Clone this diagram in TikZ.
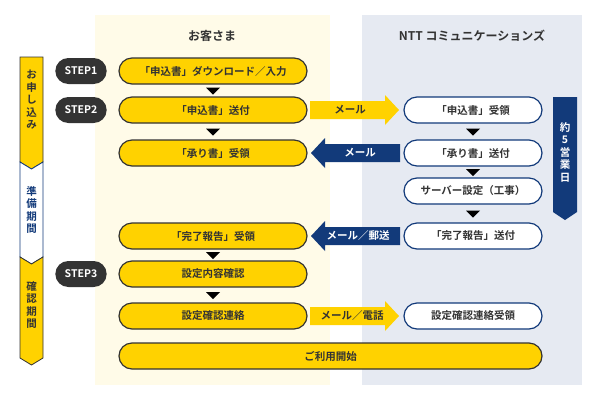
\documentclass[tikz,border=0pt]{standalone}
\usepackage{fontspec}
\setmainfont{Noto Sans CJK JP}[BoldFont={Noto Sans CJK JP Bold}]
\usetikzlibrary{shapes.misc}
\definecolor{yel}{HTML}{FFD200}
\definecolor{ylite}{HTML}{FFFBE8}
\definecolor{blite}{HTML}{E6EAF2}
\definecolor{navy}{HTML}{123A7A}
\definecolor{dk}{HTML}{333333}
\begin{document}
\begin{tikzpicture}[x=1pt,y=-1pt,
  ybox/.style={draw=dk,line width=1.2pt,fill=yel,rounded rectangle,minimum width=190pt,minimum height=26pt,inner sep=1pt,font=\bfseries\fontsize{10.5}{12}\selectfont,text=dk},
  wbox/.style={draw=navy,line width=1.2pt,fill=white,rounded rectangle,minimum width=140pt,minimum height=26pt,inner sep=1pt,font=\bfseries\fontsize{10.5}{12}\selectfont,text=dk},
  pill/.style={fill=dk,rounded rectangle,minimum width=58pt,minimum height=26pt,font=\bfseries\fontsize{10.5}{12}\selectfont,text=white},
  tri/.style={fill=black},
  lbl/.style={font=\bfseries\fontsize{10.5}{12}\selectfont},
  vlbl/.style={align=center,font=\bfseries\fontsize{10.5}{12.5}\selectfont}]
\useasboundingbox (0,0) rectangle (600,400);
\fill[ylite] (95,15) rectangle (330,385);
\fill[blite] (362,15) rectangle (582,385);
\node[text=dk,font=\bfseries\fontsize{12}{14}\selectfont] (h1) at (212,36) {お客さま};
\node[text=dk,font=\bfseries\fontsize{12}{14}\selectfont] (h2) at (472,36) {NTT コミュニケーションズ};
% left band
\draw[dk,fill=yel,line width=0.8pt] (20,57)--(43,57)--(43,162)--(31.5,169)--(20,162)--cycle;
\draw[navy,fill=white,line width=0.8pt] (20,162)--(31.5,169)--(43,162)--(43,257)--(31.5,264)--(20,257)--cycle;
\draw[dk,fill=yel,line width=0.8pt] (20,257)--(31.5,264)--(43,257)--(43,358)--(31.5,365)--(20,358)--cycle;
\node[vlbl,text=dk] (b1) at (31.5,100) {お\\申\\し\\込\\み};
\node[vlbl,text=navy] (b2) at (31.5,210) {準\\備\\期\\間};
\node[vlbl,text=dk] (b3) at (31.5,305) {確\\認\\期\\間};
% right band
\fill[navy] (553,97)--(577,97)--(577,212)--(565,220)--(553,212)--cycle;
\node[vlbl,text=white] (d5) at (565,152) {約\\5\\営\\業\\日};
% steps
\node[pill] (s1) at (81,71) {STEP1};
\node[pill] (s2) at (81,110) {STEP2};
\node[pill] (s3) at (81,274) {STEP3};
% left boxes
\node[ybox] (l1) at (213,71) {「申込書」ダウンロード／入力};
\node[ybox] (l2) at (213,110) {「申込書」送付};
\node[ybox] (l3) at (213,153) {「承り書」受領};
\node[ybox] (l4) at (213,236) {「完了報告」受領};
\node[ybox] (l5) at (213,274) {設定内容確認};
\node[ybox] (l6) at (213,316) {設定確認連絡};
\node[ybox,minimum width=425pt] (l7) at (330.5,356) {ご利用開始};
% right boxes
\node[wbox] (r1) at (473,110) {「申込書」受領};
\node[wbox] (r2) at (473,153) {「承り書」送付};
\node[wbox] (r3) at (473,191) {サーバー設定（工事）};
\node[wbox] (r4) at (473,236) {「完了報告」送付};
\node[wbox] (r5) at (473,316) {設定確認連絡受領};
% triangles
\foreach \a/\b in {l1/l2,l2/l3,l4/l5,l5/l6,r1/r2,r2/r3,r3/r4}{
  \path (\a.south) -- (\b.north) coordinate[pos=0.5] (m);
  \fill[tri] ([xshift=-7pt,yshift=3pt]m) -- ([xshift=7pt,yshift=3pt]m) -- ([yshift=-4pt]m) -- cycle;
}
% arrows
\fill[yel] (310,101)--(385,101)--(385,95)--(399,110)--(385,125)--(385,119)--(310,119)--cycle;
\node[lbl,text=dk] (a1) at (350,110) {メール};
\fill[navy] (400,144)--(325,144)--(325,138)--(311,153)--(325,168)--(325,162)--(400,162)--cycle;
\node[lbl,text=white] (a2) at (360,153) {メール};
\fill[navy] (400,227)--(325,227)--(325,221)--(311,236)--(325,251)--(325,245)--(400,245)--cycle;
\node[lbl,text=white] (a3) at (358,236) {メール／郵送};
\fill[yel] (310,307)--(385,307)--(385,301)--(399,316)--(385,331)--(385,325)--(310,325)--cycle;
\node[lbl,text=dk] (a4) at (352,316) {メール／電話};
\end{tikzpicture}
\end{document}
